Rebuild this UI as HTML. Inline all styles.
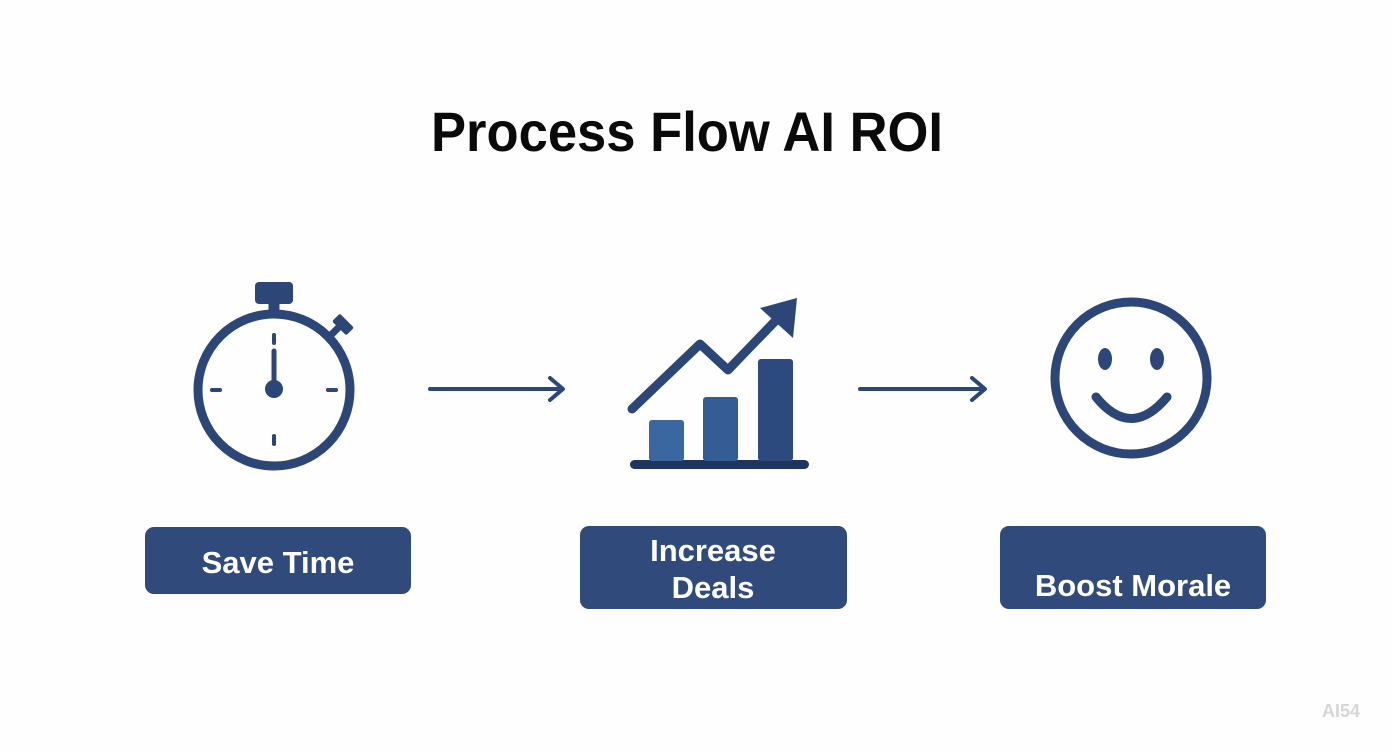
<!DOCTYPE html>
<html><head><meta charset="utf-8"><style>
html,body{margin:0;padding:0;background:#fff;}
svg{display:block;}
</style></head><body>
<svg width="1392" height="752" viewBox="0 0 1392 752" xmlns="http://www.w3.org/2000/svg">
<rect width="1392" height="752" fill="#fefefe"/>
<text x="687" y="151" text-anchor="middle" font-family="Liberation Sans, sans-serif" font-weight="bold" font-size="56" fill="#0a0a0a" textLength="512" lengthAdjust="spacingAndGlyphs">Process Flow AI ROI</text>
<g fill="none" stroke="#2c4677" stroke-linecap="round">
 <circle cx="274" cy="390" r="76" stroke-width="9"/>
 <line x1="274" y1="303" x2="274" y2="313" stroke-width="11" stroke-linecap="butt"/>
 <line x1="274" y1="335" x2="274" y2="343" stroke-width="4"/>
 <line x1="274" y1="436" x2="274" y2="444" stroke-width="4"/>
 <line x1="212" y1="390" x2="220" y2="390" stroke-width="4"/>
 <line x1="328" y1="390" x2="336" y2="390" stroke-width="4"/>
 <line x1="274" y1="351" x2="274" y2="388" stroke-width="5"/>
 <line x1="326" y1="340" x2="340" y2="326" stroke-width="7" stroke-linecap="butt"/>
 <line x1="430" y1="389" x2="562" y2="389" stroke-width="4"/>
 <polyline points="550,378 563,389 550,400" stroke-width="4" stroke-linejoin="round"/>
 <line x1="860" y1="389" x2="984" y2="389" stroke-width="4"/>
 <polyline points="972,378 985,389 972,400" stroke-width="4" stroke-linejoin="round"/>
 <polyline points="632,409 700,344 728,370 782,314" stroke-width="9" stroke-linejoin="round"/>
 <circle cx="1131" cy="378" r="76" stroke-width="9"/>
 <path d="M1096 397 Q1131 440 1167 397" stroke-width="9"/>
</g>
<g fill="#2c4677">
 <rect x="255" y="282" width="38" height="22" rx="4"/>
 <rect x="333" y="319" width="20" height="11" rx="2" transform="rotate(45 343 324.5)"/>
 <circle cx="274" cy="389" r="9"/>
 <polygon points="797,298 793,338 760,308"/>
 <rect x="630" y="460" width="179" height="9" rx="4.5" fill="#1f3560"/>
 <rect x="649" y="420" width="35" height="41" rx="3" fill="#3a67a0"/>
 <rect x="703" y="397" width="35" height="64" rx="3" fill="#345d95"/>
 <rect x="758" y="359" width="35" height="102" rx="3" fill="#2c4a7e"/>
 <ellipse cx="1105" cy="359" rx="7" ry="11"/>
 <ellipse cx="1157" cy="359" rx="7" ry="11"/>
 <rect x="145" y="527" width="266" height="67" rx="9" fill="#2f4a7b"/>
 <rect x="580" y="526" width="267" height="83" rx="9" fill="#2f4a7b"/>
 <rect x="1000" y="526" width="266" height="83" rx="9" fill="#2f4a7b"/>
</g>
<g font-family="Liberation Sans, sans-serif" font-weight="bold" font-size="31" fill="#fff" text-anchor="middle">
 <text x="278" y="573">Save Time</text>
 <text x="713" y="561">Increase</text>
 <text x="713" y="598">Deals</text>
 <text x="1133" y="596">Boost Morale</text>
</g>
<text x="1341" y="717" text-anchor="middle" font-family="Liberation Sans, sans-serif" font-weight="bold" font-size="18" fill="#d6d6d6">AI54</text>
</svg>
</body></html>
